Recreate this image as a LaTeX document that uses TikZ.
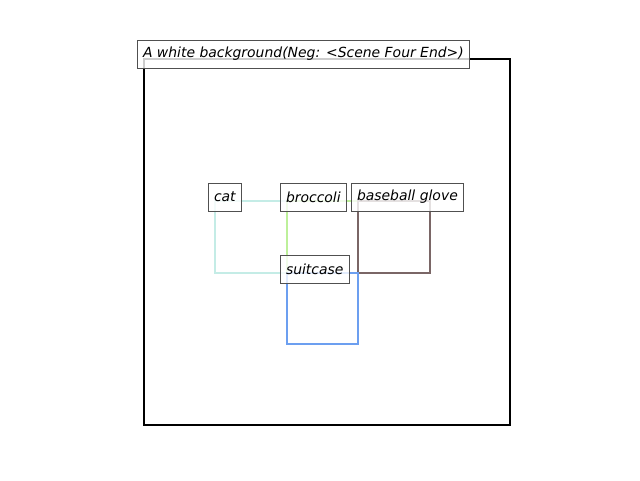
\documentclass[tikz,border=0pt]{standalone}
\usepackage{fontspec}
\setmainfont{DejaVu Sans}
\usetikzlibrary{positioning}

\definecolor{catc}{HTML}{C4ECE6}
\definecolor{brocc}{HTML}{BDF09A}
\definecolor{glovec}{HTML}{7A6666}
\definecolor{suitc}{HTML}{6C9FF0}
\definecolor{tagc}{HTML}{505050}

\begin{document}
\begin{tikzpicture}[
  x=0.75pt, y=-0.75pt,
  every node/.style={font=\itshape\fontsize{10.45}{12}\selectfont, anchor=west,
    draw=tagc, line width=0.6pt, fill=white, fill opacity=0.8, text opacity=1,
    inner xsep=4.2pt, inner ysep=0pt, minimum height=21pt},
  objbox/.style={line width=1.9pt}
]
\useasboundingbox (0,0) rectangle (640,480);

% Frame
\draw [line width=1.6pt] (144,59) rectangle (510,425);

% Objects
\draw [objbox, catc] (215,201) rectangle (287,273);
\draw [objbox, brocc] (287,201) rectangle (358,273);
\draw [objbox, glovec] (358,201) rectangle (430,273);
\draw [objbox, suitc] (287,273) rectangle (358,344);

% Labels
\node (title) at (137,54) {A white background(Neg: <Scene Four End>)};
\node (cat) at (208,197) {cat};
\node (broccoli) at (280,197) {broccoli};
\node (glove) at (351,197) {baseball glove};
\node (suitcase) at (280,269) {suitcase};

\end{tikzpicture}
\end{document}
